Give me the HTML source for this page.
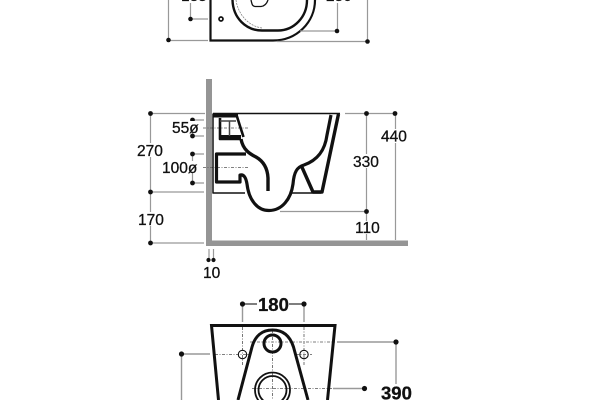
<!DOCTYPE html>
<html>
<head>
<meta charset="utf-8">
<style>
html,body{margin:0;padding:0;background:#fff;width:600px;height:400px;overflow:hidden}
svg{display:block}
text{font-family:"Liberation Sans",sans-serif;fill:#111;stroke:#111;stroke-width:.3}
</style>
</head>
<body>
<svg width="600" height="400" viewBox="0 0 600 400" xmlns="http://www.w3.org/2000/svg">
<!-- TOP VIEW -->
<g fill="none" stroke="#111">
  <path d="M210.500 0V40.500H273C297 40.500 315 22 315 0" stroke-width="2.200"/>
  <path d="M232.500 0C233 18 246 30.500 262 30.500H278C294 30.500 307 17 307 0" stroke-width="2.400"/>
  <path d="M251 0C252 4 252 6 255 6.500H261C265 6 267 3 268 0" stroke-width="1.300"/>
  <path d="M236 0C238 14 248 26 262 28" stroke-width=".7" stroke="#777" stroke-dasharray="2 1"/>
  <circle cx="221" cy="19" r="2" stroke-width="1.700"/>
</g>
<g fill="none" stroke="#999" stroke-width="1.200">
  <path d="M168.500 0V40.500H208M190.500 3V19H208M337.500 3V31H300M367.500 0V41.500H277"/>
</g>
<g fill="#111">
  <circle cx="168.500" cy="40" r="2.300"/><circle cx="190.500" cy="19" r="2.300"/>
  <circle cx="337" cy="31" r="2.300"/><circle cx="367.500" cy="41.500" r="2.300"/>
</g>
<text x="181" y="1" font-size="15.500">185</text>
<text x="326" y="1" font-size="15.500">250</text>

<!-- SIDE VIEW: wall and floor -->
<path d="M206 79H212V240.500H408V246H206Z" fill="#959595"/>

<!-- Dimension lines -->
<g fill="none" stroke="#999" stroke-width="1.200">
  <path d="M150.500 113.500H205M150.500 113.500V243M150.500 192H204M150.500 243H204"/>
  <path d="M192.500 120H204M192.500 136H204M192.500 154H204M192.500 183H204M192.500 120V136M192.500 154V183"/>
  <path d="M345 113.500H395M366.500 113.500V240M395.500 113.500V240M280 211.500H366.500"/>
  <path d="M209 249V260M213.500 249V260"/>
</g>
<g fill="#111">
  <circle cx="150.500" cy="113.500" r="2.400"/><circle cx="150.500" cy="192" r="2.400"/><circle cx="150.500" cy="243" r="2.400"/>
  <circle cx="192.500" cy="120" r="2.400"/><circle cx="192.500" cy="136" r="2.400"/><circle cx="192.500" cy="154" r="2.400"/><circle cx="192.500" cy="183" r="2.400"/>
  <circle cx="366.500" cy="113.500" r="2.400"/><circle cx="395" cy="113.500" r="2.400"/><circle cx="366.500" cy="211.500" r="2.400"/>
  <circle cx="208.500" cy="260" r="2.100"/><circle cx="213.500" cy="260" r="2.100"/>
</g>
<g stroke="#555" stroke-width=".8" stroke-dasharray="3 1.500 1 1.500" fill="none">
  <path d="M203 128H248M203 167.500H248"/>
</g>

<!-- Side view: toilet -->
<g fill="none" stroke="#111" stroke-linecap="butt" stroke-linejoin="round">
  <path d="M213 113.500V193H245M292 193H321M213 113.500H340" stroke-width="1.500"/>
  <path d="M213 115.500H238" stroke-width="4"/>
  <path d="M236.500 115L243.500 137" stroke-width="2.600"/>
  <path d="M220 118V139H240" stroke-width="2.600"/>
  <path d="M219 137.500H241" stroke-width="5"/>
  <path d="M220 121H236M229.500 121V136" stroke-width="1.500" stroke="#444"/>
  <path d="M241 139C243 150 250 154 256 157C263 161 267.500 168 268 178V191" stroke-width="3.400"/>
  <path d="M246 154H216.500V182H240V175C244 174 246 178 247 184C249 201 258 210.500 269 210.500C282 210.500 291 199 293 184C294 172 297 167 304 165C318 160 325 150 327 135L331 115" stroke-width="3.200"/>
  <path d="M338.500 114L322 192H313L301 165" stroke-width="3.400"/>
</g>

<!-- Bottom view -->
<g fill="none" stroke="#999" stroke-width="1.400">
  <path d="M242.500 304V322M304 304V322M181.500 354H210M181.500 354V400M337 342H396V384M333 388.500H364"/>
</g>
<g fill="none" stroke="#333" stroke-width="1.200">
  <path d="M242.500 304H257M289 304H304"/>
</g>
<g fill="#111">
  <circle cx="242.500" cy="304" r="2.600"/><circle cx="304" cy="304" r="2.600"/>
  <circle cx="181.500" cy="354" r="2.600"/><circle cx="396" cy="342" r="2.600"/><circle cx="364.500" cy="388.500" r="2.600"/>
</g>
<g fill="none" stroke="#555" stroke-width=".8" stroke-dasharray="3 1.500 1 1.500">
  <path d="M242.500 327V365M304 327V365M215 354.500H250M296 354.500H312M272.500 330V400M250 342H335M252 388.500H332"/>
</g>
<g fill="none" stroke="#111">
  <path d="M218.500 400L211.500 325.500H335L327.500 400" stroke-width="3"/>
  <path d="M238 400L252 347C255 336 262 330 272.500 330C283 330 290 336 293.500 347L308 400" stroke-width="3"/>
  <circle cx="272.500" cy="343.500" r="8.500" stroke-width="3"/>
  <circle cx="242.500" cy="354.500" r="4.200" stroke-width="1.100"/>
  <circle cx="304" cy="354.500" r="4.200" stroke-width="1.100"/>
  <circle cx="272.500" cy="390" r="17.500" stroke-width="1.800"/>
  <circle cx="272.500" cy="390" r="14" stroke-width="1.800"/>
</g>

<!-- Labels -->
<g font-size="15.500">
  <rect x="135" y="143" width="30" height="14" fill="#fff" stroke="none"/>
  <text x="137" y="156">270</text>
  <rect x="136" y="212" width="30" height="14" fill="#fff"/>
  <text x="138" y="225">170</text>
  <rect x="171" y="121" width="28" height="12" fill="#fff"/>
  <text x="172" y="133">55ø</text>
  <rect x="161" y="161" width="38" height="12" fill="#fff"/>
  <text x="162" y="173">100ø</text>
  <rect x="352" y="154" width="29" height="14" fill="#fff"/>
  <text x="353" y="167">330</text>
  <rect x="381" y="129" width="28" height="14" fill="#fff"/>
  <text x="381" y="141.500">440</text>
  <rect x="354" y="221" width="28" height="13" fill="#fff"/>
  <text x="355" y="233">110</text>
  <text x="203" y="278">10</text>
</g>
<text x="258" y="311" font-size="18.500" font-weight="bold">180</text>
<rect x="379" y="385" width="35" height="15" fill="#fff"/>
<text x="381" y="399.500" font-size="18.500" font-weight="bold">390</text>
</svg>
</body>
</html>
